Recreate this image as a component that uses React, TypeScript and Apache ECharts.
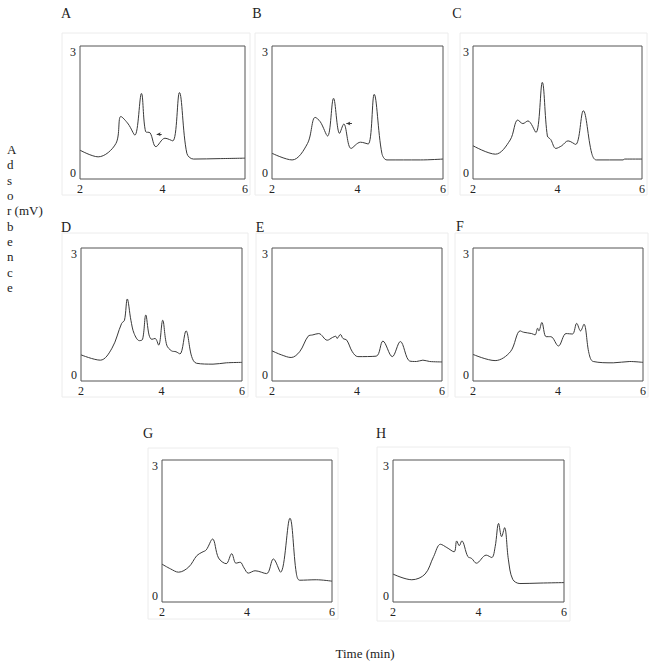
import React, { useEffect, useRef } from "react";
import * as echarts from "echarts";

// Chromatogram traces: retention time (min) and absorbance (mV)
const timeA = [2.0, 2.44, 2.87, 2.99, 3.17, 3.33, 3.49, 3.59, 3.7, 3.84, 4.06, 4.25, 4.41, 4.59, 4.75, 5.4, 6.0];
const valA = [0.65, 0.5, 0.8, 1.41, 1.24, 0.99, 1.93, 1.07, 1.04, 0.73, 0.92, 0.86, 1.95, 0.58, 0.45, 0.46, 0.47];

const timeB = [2.0, 2.47, 2.83, 3.01, 3.13, 3.3, 3.44, 3.58, 3.68, 3.85, 4.07, 4.25, 4.39, 4.57, 4.69, 5.47, 6.0];
const valB = [0.58, 0.43, 0.8, 1.39, 1.29, 0.97, 1.82, 1.03, 1.24, 0.69, 0.83, 0.79, 1.91, 0.58, 0.43, 0.43, 0.45];

const timeC = [2.0, 2.53, 2.88, 3.06, 3.18, 3.3, 3.49, 3.64, 3.76, 3.84, 3.96, 4.1, 4.25, 4.43, 4.61, 4.81, 4.92, 5.55, 5.59, 6.0];
const valC = [0.75, 0.56, 0.88, 1.33, 1.25, 1.31, 1.05, 2.18, 0.97, 0.89, 0.69, 0.75, 0.86, 0.78, 1.54, 0.58, 0.43, 0.43, 0.45, 0.45];

const timeD = [2.0, 2.48, 2.77, 3.01, 3.08, 3.15, 3.24, 3.32, 3.45, 3.53, 3.61, 3.69, 3.76, 3.84, 3.93, 4.03, 4.13, 4.25, 4.36, 4.46, 4.61, 4.75, 4.87, 5.28, 5.61, 6.0];
const valD = [0.59, 0.47, 0.74, 1.3, 1.37, 1.85, 1.37, 1.07, 0.91, 0.94, 1.49, 1.04, 0.94, 0.96, 0.81, 1.37, 0.81, 0.68, 0.66, 0.61, 1.13, 0.55, 0.4, 0.38, 0.41, 0.42];

const timeE = [2.0, 2.22, 2.45, 2.65, 2.85, 2.96, 3.1, 3.3, 3.42, 3.5, 3.53, 3.61, 3.67, 3.76, 3.89, 4.02, 4.45, 4.61, 4.83, 5.02, 5.24, 5.4, 5.55, 5.71, 6.0];
const valE = [0.68, 0.59, 0.53, 0.66, 1.01, 1.04, 1.07, 0.92, 0.98, 1.01, 0.96, 1.05, 0.96, 0.92, 0.66, 0.55, 0.56, 0.9, 0.55, 0.89, 0.45, 0.44, 0.47, 0.44, 0.43];

const timeF = [2.0, 2.52, 2.88, 3.11, 3.19, 3.38, 3.46, 3.52, 3.55, 3.62, 3.72, 3.83, 4.01, 4.19, 4.34, 4.44, 4.53, 4.61, 4.73, 4.83, 5.3, 5.69, 6.0];
const valF = [0.6, 0.46, 0.66, 1.13, 1.1, 1.07, 1.04, 1.19, 1.13, 1.32, 1.0, 1.0, 0.79, 1.07, 1.06, 1.3, 1.13, 1.28, 0.62, 0.44, 0.41, 0.44, 0.42];

const timeG = [2.0, 2.2, 2.39, 2.63, 2.82, 2.94, 3.04, 3.19, 3.33, 3.51, 3.64, 3.74, 3.84, 3.93, 4.03, 4.19, 4.46, 4.62, 4.79, 5.01, 5.16, 5.24, 5.63, 6.0];
const valG = [0.8, 0.7, 0.63, 0.74, 0.98, 1.05, 1.1, 1.33, 0.93, 0.81, 1.02, 0.82, 0.84, 0.72, 0.61, 0.66, 0.6, 0.91, 0.63, 1.77, 0.61, 0.46, 0.47, 0.44];

const timeH = [2.0, 2.44, 2.75, 2.95, 3.11, 3.26, 3.43, 3.49, 3.55, 3.61, 3.75, 3.84, 3.95, 4.18, 4.31, 4.39, 4.47, 4.54, 4.61, 4.7, 4.8, 4.97, 5.44, 6.0];
const valH = [0.59, 0.47, 0.59, 0.96, 1.22, 1.15, 1.06, 1.29, 1.19, 1.29, 0.96, 0.92, 0.82, 0.99, 0.94, 1.17, 1.66, 1.38, 1.57, 0.89, 0.48, 0.39, 0.4, 0.41];

// Arrow annotations (panels A and B): [fromTime, toTime, level]
const arrowA = [3.98, 3.86, 1.01];
const arrowB = [3.87, 3.74, 1.25];

const panelNames = ["A", "B", "C", "D", "E", "F", "G", "H"];
const xTickLabels = [2, 4, 6];
const yTickLabels = [0, 3];
const yTitleLetters = ["A", "d", "s", "o", "r (mV)", "b", "e", "n", "c", "e"];
const xTitle = "Time (min)";

const panels = [
  { t: timeA, v: valA, arrow: arrowA, grid: { left: 80, top: 46, width: 165, height: 133 }, lab: [66, 13], frame: [62, 33, 188, 162] },
  { t: timeB, v: valB, arrow: arrowB, grid: { left: 272, top: 46, width: 171, height: 133 }, lab: [257, 13], frame: [255, 33, 193, 162] },
  { t: timeC, v: valC, arrow: null, grid: { left: 473, top: 46, width: 169, height: 133 }, lab: [457, 13], frame: [460, 33, 187, 162] },
  { t: timeD, v: valD, arrow: null, grid: { left: 81, top: 248, width: 161, height: 133 }, lab: [66, 227], frame: [62, 233, 186, 164] },
  { t: timeE, v: valE, arrow: null, grid: { left: 272, top: 248, width: 170, height: 133 }, lab: [260, 227], frame: [256, 233, 192, 164] },
  { t: timeF, v: valF, arrow: null, grid: { left: 473, top: 248, width: 170, height: 133 }, lab: [460, 226], frame: [455, 233, 193, 164] },
  { t: timeG, v: valG, arrow: null, grid: { left: 162, top: 460, width: 170, height: 142 }, lab: [148, 433], frame: [148, 448, 190, 171] },
  { t: timeH, v: valH, arrow: null, grid: { left: 393, top: 460, width: 171, height: 142 }, lab: [381, 433], frame: [377, 447, 193, 174] },
];

const SERIF = "Liberation Serif";
const INK = "#3a3a3a";

export default function App() {
  const ref = useRef<HTMLDivElement>(null);
  useEffect(() => {
    if (!ref.current) return;
    const chart = echarts.init(ref.current, undefined, { renderer: "svg" });

    const grids: any[] = [];
    const xAxes: any[] = [];
    const yAxes: any[] = [];
    const series: any[] = [];
    const graphics: any[] = [];

    panels.forEach((p, i) => {
      grids.push({ ...p.grid, show: true, borderColor: "#555", borderWidth: 1, backgroundColor: "transparent" });
      xAxes.push({
        type: "value",
        gridIndex: i,
        min: xTickLabels[0],
        max: xTickLabels[xTickLabels.length - 1],
        interval: 2,
        axisLine: { show: false },
        axisTick: { show: false },
        splitLine: { show: false },
        axisLabel: { fontSize: 12, color: "#222", fontFamily: SERIF, margin: 4 },
      });
      yAxes.push({
        type: "value",
        gridIndex: i,
        min: yTickLabels[0],
        max: yTickLabels[yTickLabels.length - 1],
        interval: 3,
        axisLine: { show: false },
        axisTick: { show: false },
        splitLine: { show: false },
        axisLabel: {
          fontSize: 12,
          color: "#222",
          fontFamily: SERIF,
          margin: 4,
          verticalAlignMinLabel: "bottom",
          verticalAlignMaxLabel: "top",
        },
      });
      const s: any = {
        type: "line",
        xAxisIndex: i,
        yAxisIndex: i,
        data: p.t.map((t, k) => [t, p.v[k]]),
        showSymbol: false,
        smooth: 0.35,
        lineStyle: { color: INK, width: 1 },
        silent: true,
      };
      if (p.arrow) {
        s.markLine = {
          silent: true,
          symbol: ["none", "arrow"],
          symbolSize: [3, 4],
          label: { show: false },
          lineStyle: { color: INK, width: 1, type: "solid" },
          data: [[{ coord: [p.arrow[0], p.arrow[2]] }, { coord: [p.arrow[1], p.arrow[2]] }]],
        };
      }
      series.push(s);

      graphics.push({
        type: "rect",
        shape: { x: p.frame[0], y: p.frame[1], width: p.frame[2], height: p.frame[3] },
        style: { fill: "none", stroke: "#ececec", lineWidth: 1 },
        silent: true,
        z: -1,
      });
      graphics.push({
        type: "text",
        x: p.lab[0],
        y: p.lab[1],
        style: {
          text: panelNames[i],
          fontSize: 14,
          fontFamily: SERIF,
          fill: "#222",
          textAlign: "center",
          textVerticalAlign: "middle",
        },
      });
    });

    graphics.push({
      type: "text",
      x: 7,
      y: 142,
      style: {
        text: yTitleLetters.join("\n"),
        fontSize: 13,
        lineHeight: 15.3,
        fontFamily: SERIF,
        fill: "#222",
        textAlign: "left",
        textVerticalAlign: "top",
      },
    });
    graphics.push({
      type: "text",
      x: 365,
      y: 653,
      style: {
        text: xTitle,
        fontSize: 13,
        fontFamily: SERIF,
        fill: "#222",
        textAlign: "center",
        textVerticalAlign: "middle",
      },
    });

    chart.setOption({
      animation: false,
      backgroundColor: "#ffffff",
      grid: grids,
      xAxis: xAxes,
      yAxis: yAxes,
      series,
      graphic: graphics,
    });
    return () => chart.dispose();
  }, []);

  return (
    <div
      ref={ref}
      style={{ position: "fixed", left: 0, top: 0, width: 655, height: 666 }}
    />
  );
}
